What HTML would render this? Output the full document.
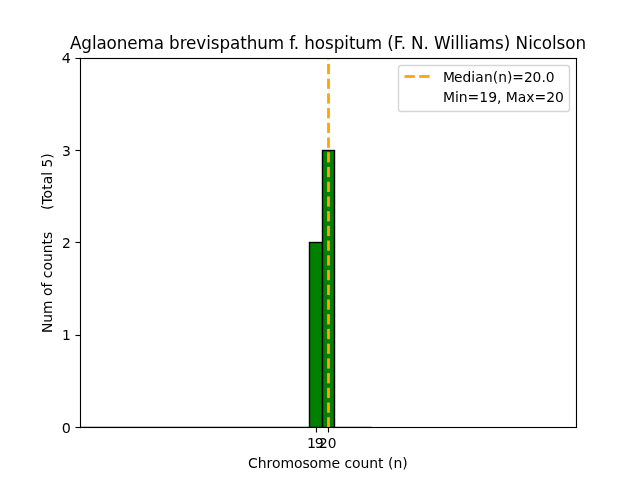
<!DOCTYPE html>
<html lang="en">
<head>
<meta charset="utf-8">
<title>Aglaonema brevispathum f. hospitum (F. N. Williams) Nicolson</title>
<style>
html,body{margin:0;padding:0;background:#fff;}
body{width:640px;height:480px;overflow:hidden;}
svg{display:block;}
text{font-family:"DejaVu Sans", "Liberation Sans", sans-serif;fill:#000;white-space:pre;}
.bar{fill:#008000;stroke:#000;stroke-width:1.39;stroke-linejoin:miter;}
</style>
</head>
<body>
<svg width="640" height="480" viewBox="0 0 640 480">
<defs><clipPath id="axclip"><rect x="80" y="57.6" width="496" height="369.6"/></clipPath></defs>
<rect x="0" y="0" width="640" height="480" fill="#ffffff"/>
<g clip-path="url(#axclip)">
<!-- empty histogram bins (zero height) -->
<rect x="74" y="426.805" width="297.5" height="1.39" fill="#000"/>
<!-- bars -->
<rect class="bar" x="309.5" y="242.5" width="13" height="185"/>
<rect class="bar" x="322.5" y="150.5" width="12" height="277"/>
<!-- median line -->
<rect x="327.111" y="417.222" width="2.778" height="10.278" fill="#ffa500"/>
<rect x="327.111" y="402.5" width="2.778" height="10.278" fill="#ffa500"/>
<rect x="327.111" y="387.778" width="2.778" height="10.278" fill="#ffa500"/>
<rect x="327.111" y="373.056" width="2.778" height="10.278" fill="#ffa500"/>
<rect x="327.111" y="358.333" width="2.778" height="10.278" fill="#ffa500"/>
<rect x="327.111" y="343.611" width="2.778" height="10.278" fill="#ffa500"/>
<rect x="327.111" y="328.889" width="2.778" height="10.278" fill="#ffa500"/>
<rect x="327.111" y="314.167" width="2.778" height="10.278" fill="#ffa500"/>
<rect x="327.111" y="299.444" width="2.778" height="10.278" fill="#ffa500"/>
<rect x="327.111" y="284.722" width="2.778" height="10.278" fill="#ffa500"/>
<rect x="327.111" y="270" width="2.778" height="10.278" fill="#ffa500"/>
<rect x="327.111" y="255.278" width="2.778" height="10.278" fill="#ffa500"/>
<rect x="327.111" y="240.556" width="2.778" height="10.278" fill="#ffa500"/>
<rect x="327.111" y="225.833" width="2.778" height="10.278" fill="#ffa500"/>
<rect x="327.111" y="211.111" width="2.778" height="10.278" fill="#ffa500"/>
<rect x="327.111" y="196.389" width="2.778" height="10.278" fill="#ffa500"/>
<rect x="327.111" y="181.667" width="2.778" height="10.278" fill="#ffa500"/>
<rect x="327.111" y="166.944" width="2.778" height="10.278" fill="#ffa500"/>
<rect x="327.111" y="152.222" width="2.778" height="10.278" fill="#ffa500"/>
<rect x="327.111" y="137.5" width="2.778" height="10.278" fill="#ffa500"/>
<rect x="327.111" y="122.778" width="2.778" height="10.278" fill="#ffa500"/>
<rect x="327.111" y="108.056" width="2.778" height="10.278" fill="#ffa500"/>
<rect x="327.111" y="93.333" width="2.778" height="10.278" fill="#ffa500"/>
<rect x="327.111" y="78.611" width="2.778" height="10.278" fill="#ffa500"/>
<rect x="327.111" y="63.889" width="2.778" height="10.278" fill="#ffa500"/>
<rect x="327.111" y="58" width="2.778" height="1.444" fill="#ffa500"/>
</g>
<!-- axes frame -->
<rect x="79.945" y="57.945" width="1.11" height="370.11" fill="#000"/>
<rect x="575.945" y="57.945" width="1.11" height="370.11" fill="#000"/>
<rect x="79.945" y="426.945" width="497.11" height="1.11" fill="#000"/>
<rect x="79.945" y="57.945" width="497.11" height="1.11" fill="#000"/>
<!-- x axis -->
<rect x="315.945" y="427.5" width="1.11" height="5" fill="#000"/>
<rect x="327.945" y="427.5" width="1.11" height="5" fill="#000"/>
<text transform="translate(306.4400 447.6050) scale(1.0050 1)" font-size="14.0406" x="0.4975 8.3333">19</text>
<text transform="translate(319.0000 447.6050) scale(0.9681 1)" font-size="14.2375" x="0.0000 9.0383">20</text>
<text transform="translate(248.0000 467.7200) scale(1.0088 1)" font-size="13.8531" x="0.0000 9.6649 18.3386 23.7906 32.2165 45.5987 54.0246 61.0874 69.5133 82.8955 91.3214 95.6582 103.2167 111.6425 120.3162 128.9899 134.4419 138.7787 144.2308 152.9044">Chromosome count (n)</text>
<!-- y axis -->
<rect x="75.5" y="426.945" width="5" height="1.11" fill="#000"/>
<rect x="75.5" y="334.945" width="5" height="1.11" fill="#000"/>
<rect x="75.5" y="241.945" width="5" height="1.11" fill="#000"/>
<rect x="75.5" y="149.945" width="5" height="1.11" fill="#000"/>
<rect x="75.5" y="57.945" width="5" height="1.11" fill="#000"/>
<text transform="translate(61.6250 432.7300) scale(0.9925 1)" font-size="14.4625" x="0.0000">0</text>
<text transform="translate(61.9375 339.5800) scale(1.0275 1)" font-size="13.5813" x="0.0000">1</text>
<text transform="translate(62.0000 247.6800) scale(1.0000 1)" font-size="13.8515" x="0.0000">2</text>
<text transform="translate(61.9375 155.5300) scale(1.0100 1)" font-size="13.8515" x="0.0000">3</text>
<text transform="translate(61.6875 62.6300) scale(1.0300 1)" font-size="14.0203" x="0.0000">4</text>
<text transform="translate(51.5000 333.0000) rotate(-90) scale(1.0137 1)" font-size="13.6640" xml:space="preserve" x="0.0000 10.2348 18.8665 32.1841 36.5000 44.8851 49.8175 54.1334 61.6553 70.0404 78.6722 87.3039 92.7296 99.7583 104.0742 108.3901 112.7059 117.0218 121.3377 126.7633 132.8056 141.4373 146.8630 155.1248 158.9474 163.2633 171.8950">Num of counts     (Total 5)</text>
<!-- title -->
<text transform="translate(70.0000 48.5200) scale(0.9112 1)" font-size="18.4375" x="0.0000 12.4835 24.2812 29.0825 40.1942 51.3060 62.8292 74.0781 91.9118 103.0235 108.7851 120.5827 127.4418 138.6907 149.5281 154.6038 164.2065 175.7298 186.8415 193.9750 205.4982 217.0215 234.8551 240.6168 245.6925 251.4541 257.2158 268.7390 279.8507 289.4535 300.9767 306.3268 313.1859 324.7092 342.5428 348.3044 355.3007 362.8457 368.6073 374.3690 388.0871 393.8488 399.6104 417.3068 422.6569 427.4583 432.8084 437.6097 448.7215 466.5551 476.1578 483.2913 489.0529 503.0454 507.8468 517.8611 528.9728 534.0485 543.6512 554.7629">Aglaonema brevispathum f. hospitum (F. N. Williams) Nicolson</text>
<!-- legend -->
<path d="M401.28 111.5 L566.72 111.5 Q569.5 111.5 569.5 108.72 L569.5 68.28 Q569.5 65.5 566.72 65.5 L401.28 65.5 Q398.5 65.5 398.5 68.28 L398.5 108.72 Q398.5 111.5 401.28 111.5 Z" fill="#ffffff" stroke="#cccccc" stroke-width="1.39" opacity="0.8"/>
<rect x="404.5" y="75.111" width="10.278" height="2.778" fill="#ffa500"/>
<rect x="419.222" y="75.111" width="10.278" height="2.778" fill="#ffa500"/>
<text transform="translate(442.1250 81.5250) scale(0.9750 1)" font-size="14.1625" x="1.0256 12.3077 21.0256 29.8718 34.1026 42.9487 51.9231 57.5641 66.5385 72.0513 83.9744 92.6923 101.9231 106.4103">Median(n)=20.0</text>
<text transform="translate(443.0000 101.5400) scale(0.9925 1)" font-size="14.0594" x="0.0000 12.0907 15.9950 24.8111 36.5239 45.7179 54.4081 58.8161 63.2242 75.3149 84.0050 92.3174 104.0302 112.8463">Min=19, Max=20</text>
</svg>
</body>
</html>
